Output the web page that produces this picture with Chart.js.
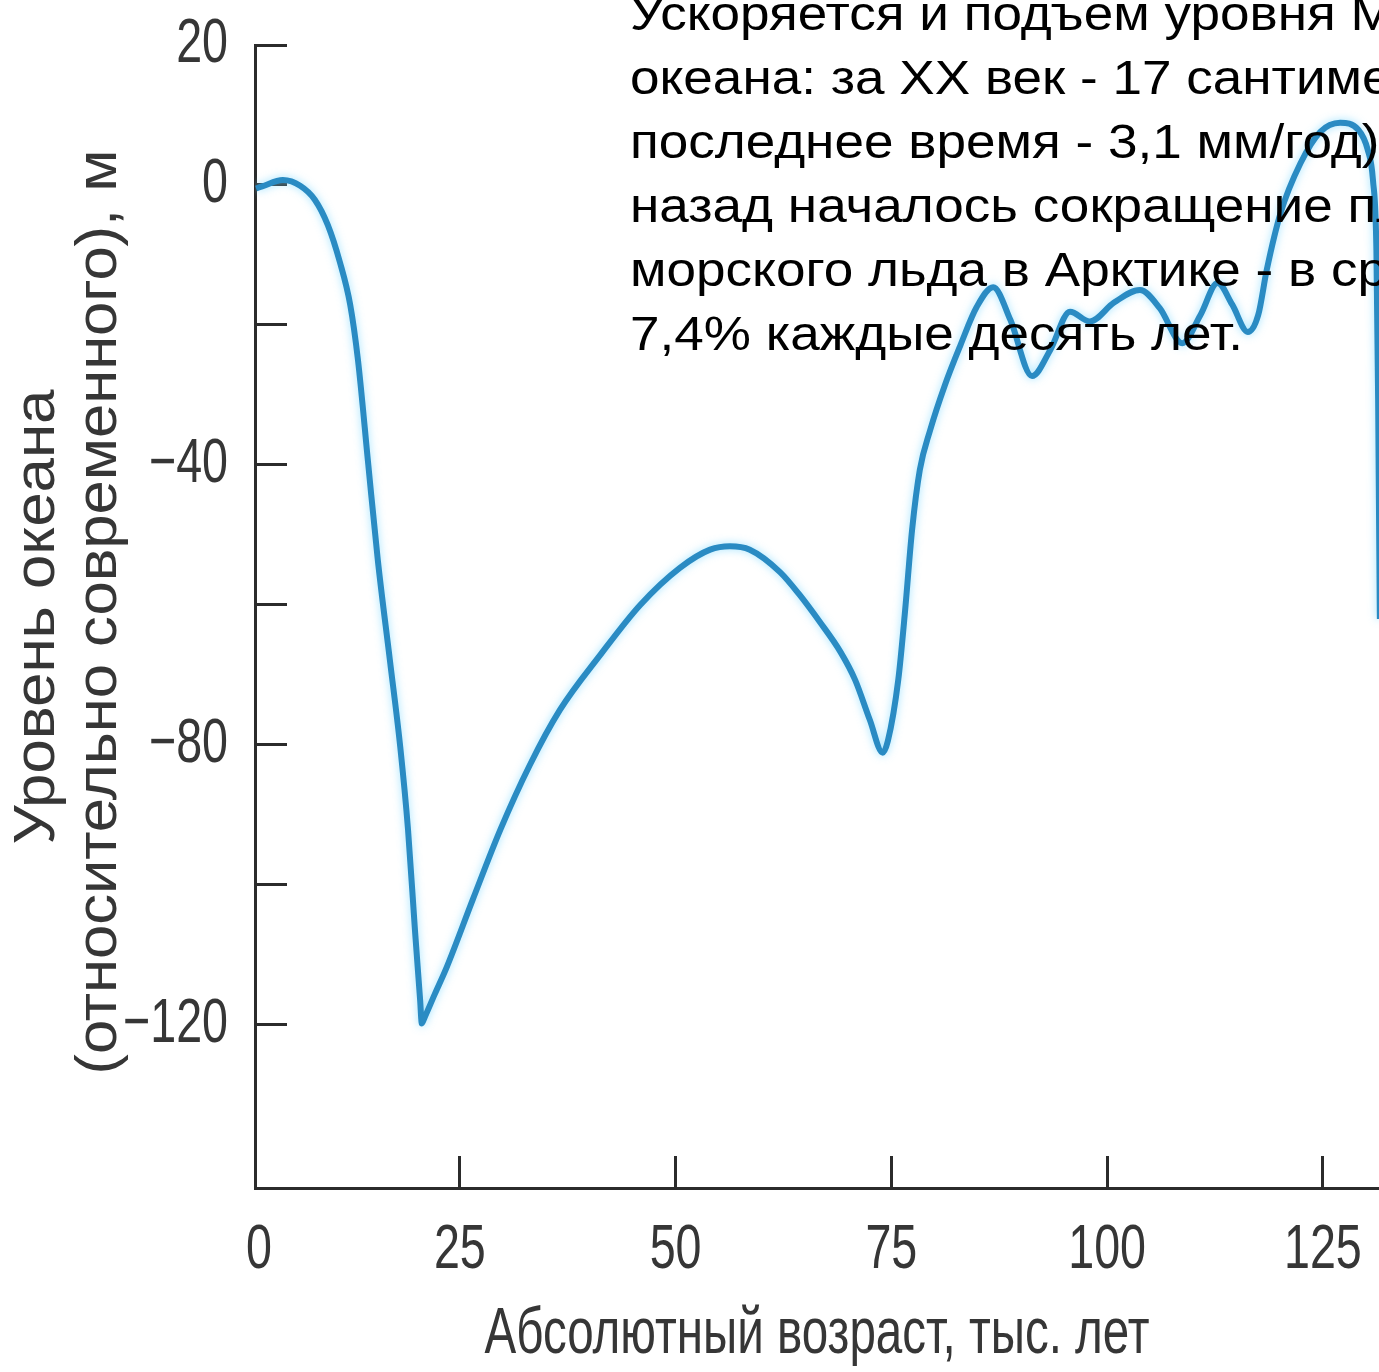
<!DOCTYPE html>
<html>
<head>
<meta charset="utf-8">
<script src="https://cdn.jsdelivr.net/npm/chart.js@4.4.0/dist/chart.umd.min.js"></script>
<style>
  html, body { margin: 0; padding: 0; background: #fff; overflow: hidden; }
  #wrap { width: 1379px; height: 1372px; position: relative; }
</style>
</head>
<body>
<div id="wrap"><canvas id="chart"></canvas></div>
<script>
// возраст, тыс. лет
const ageKyr = [1.4, 2.1, 4.5, 6.5, 8.2, 9.7, 11.1, 12.3, 13.2, 14.4, 15.5, 16.9, 18.1, 19.0, 19.8, 20.4, 20.6,
  20.9, 22.1, 23.5, 26.5, 29.7, 33.1, 36.6, 41.3, 45.9, 50.5, 54.0, 56.3, 58.6, 62.1, 64.4, 66.7, 69.1, 70.8, 72.5, 74.0,
  74.6, 75.8, 76.6, 77.4, 78.3, 79.5, 81.2, 83.0, 84.9, 86.8, 88.8, 91.3, 93.4, 95.7, 98.0, 100.8, 103.8, 106.1,
  108.7, 110.8, 112.8, 114.5, 116.3, 117.5, 118.5, 120.1, 122.4, 124.7, 127.0, 129.1, 130.2, 130.8, 131.2,
  131.4, 131.6, 132.1];
// уровень океана, м
const seaLevel = [-0.5, -0.2, 0.7, -0.1, -2.1, -5.7, -11, -17.1, -25, -40, -53.6, -67.9, -80.3, -92.1, -106.4, -116.4, -119.8,
  -119.0, -115.6, -111.7, -102.1, -92.1, -82.9, -75, -67.1, -60, -54.7, -52.1, -51.6, -52.1, -55.3, -58.6, -62.4, -66.7, -70.7, -76.4, -81.1,
  -79.4, -70.7, -60.7, -49.3, -40.7, -35, -28.6, -22.9, -17.4, -14.6, -19.3, -27.3, -23.6, -18.1, -19.5, -16.8, -15, -17.6,
  -22.6, -18.6, -14, -17.1, -21, -18.6, -12.1, -4, 3.1, 7.6, 8.9, 7.9, 5, 0.7, -9.3,
  -30.7, -62, -88];

const xTicks = [25, 50, 75, 100, 125];
const yTicks = [20, 0, -20, -40, -60, -80, -100, -120];
const yLabelled = [20, 0, -40, -80, -120];

const xTitle = 'Абсолютный возраст, тыс. лет';
const yTitle = ['Уровень океана', '(относительно современного), м'];

const noteLines = [
  'Ускоряется и подъем уровня Мирового',
  'океана: за XX век - 17 сантиметров (в',
  'последнее время - 3,1 мм/год). 30 лет',
  'назад началось сокращение площади',
  'морского льда в Арктике - в среднем на',
  '7,4% каждые десять лет.'
];

const X_START = 1.27;   // где стоит вертикальная ось (подпись "0")
const X_END = 131.5;

const axisColor = '#2b2b2b';
const labelColor = '#363636';
const sansFont = "'Liberation Sans', Arial, sans-serif";

// текст, сжатый по горизонтали (узкий шрифт оригинала)
function squeezedText(ctx, text, x, y, sx, align) {
  ctx.save();
  ctx.translate(x, y);
  ctx.scale(sx, 1);
  ctx.textAlign = align;
  ctx.fillText(text, 0, 0);
  ctx.restore();
}

function fittedText(ctx, text, x, y, width) {
  const w = ctx.measureText(text).width;
  squeezedText(ctx, text, x, y, width / w, 'center');
}

// подписи делений и осей
const axisTextPlugin = {
  id: 'axisText',
  afterDraw(chart) {
    const ctx = chart.ctx;
    const xs = chart.scales.x, ys = chart.scales.y;
    ctx.save();
    ctx.fillStyle = labelColor;
    ctx.textBaseline = 'middle';
    ctx.font = '63px ' + sansFont;
    yLabelled.forEach(v => {
      const txt = v < 0 ? '\u2212' + Math.abs(v) : String(v);
      squeezedText(ctx, txt, 228, ys.getPixelForValue(v), 0.74, 'right');
    });
    squeezedText(ctx, '0', xs.getPixelForValue(X_START) + 4, 1251, 0.74, 'center');
    xTicks.forEach(v => {
      squeezedText(ctx, String(v), xs.getPixelForValue(v), 1251, 0.74, 'center');
    });

    ctx.font = '64px ' + sansFont;
    fittedText(ctx, xTitle, (xs.left + xs.right) / 2, 1335, 665);

    ctx.font = '58px ' + sansFont;
    ctx.save();
    ctx.translate(38, 617);
    ctx.rotate(-Math.PI / 2);
    fittedText(ctx, yTitle[0], 0, 0, 455);
    ctx.restore();
    ctx.save();
    ctx.translate(100, 612);
    ctx.rotate(-Math.PI / 2);
    fittedText(ctx, yTitle[1], 0, 0, 925);
    ctx.restore();
    ctx.restore();
  }
};

// подпись в правом верхнем углу, поверх кривой
const notePlugin = {
  id: 'note',
  afterDraw(chart) {
    const ctx = chart.ctx;
    ctx.save();
    ctx.font = '48px ' + sansFont;
    ctx.fillStyle = '#000';
    ctx.textBaseline = 'alphabetic';
    const sx = 613 / ctx.measureText(noteLines[5]).width;
    noteLines.forEach((line, i) => {
      squeezedText(ctx, line, 630, 30 + i * 64, sx, 'left');
    });
    ctx.restore();
  }
};

// лёгкое свечение вокруг линии
const glowPlugin = {
  id: 'glow',
  beforeDatasetsDraw(chart) {
    chart.ctx.save();
    chart.ctx.shadowColor = 'rgba(120, 215, 255, 0.7)';
    chart.ctx.shadowBlur = 8;
  },
  afterDatasetsDraw(chart) {
    chart.ctx.restore();
  }
};

const gridOpts = { drawOnChartArea: false, drawTicks: true, tickLength: -32, color: axisColor, lineWidth: 3 };

new Chart(document.getElementById('chart'), {
  type: 'line',
  data: {
    datasets: [{
      data: ageKyr.map((a, i) => ({ x: a, y: seaLevel[i] })),
      borderColor: '#2a8bc3',
      borderWidth: 6,
      pointRadius: 0,
      cubicInterpolationMode: 'monotone',
      fill: false
    }]
  },
  options: {
    responsive: true,
    maintainAspectRatio: false,
    animation: false,
    layout: { padding: { top: 45, right: 0, left: 0, bottom: 0 } },
    plugins: { legend: { display: false }, tooltip: { enabled: false } },
    scales: {
      x: {
        type: 'linear',
        min: X_START,
        max: X_END,
        afterBuildTicks(scale) {
          scale.ticks = [{ value: X_START }].concat(xTicks.map(v => ({ value: v })));
        },
        afterFit(scale) {
          scale.height = 184;
          scale.paddingLeft = 0;
          scale.paddingRight = 0;
        },
        ticks: { display: false },
        grid: gridOpts,
        border: { display: true, color: axisColor, width: 3 },
        title: { display: false }
      },
      y: {
        type: 'linear',
        min: -143.3,
        max: 20,
        afterBuildTicks(scale) {
          scale.ticks = yTicks.map(v => ({ value: v }));
        },
        afterFit(scale) {
          scale.width = 255;
          scale.paddingTop = 0;
          scale.paddingBottom = 0;
        },
        ticks: { display: false },
        grid: gridOpts,
        border: { display: true, color: axisColor, width: 3 },
        title: { display: false }
      }
    }
  },
  plugins: [glowPlugin, axisTextPlugin, notePlugin]
});
</script>
</body>
</html>
